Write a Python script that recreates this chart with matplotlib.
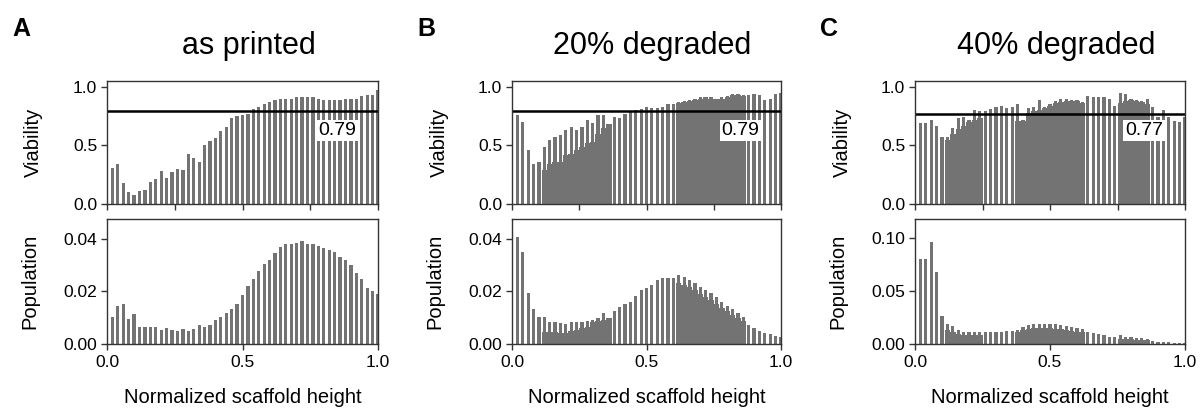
import numpy as np
import matplotlib
matplotlib.use("Agg")
import matplotlib.pyplot as plt

plt.rcParams['font.family'] = ['Liberation Sans', 'DejaVu Sans']

# bin centres (50 bins of width 0.02)
bins = np.arange(1, 51) * 0.02

panel_letters = ['A', 'B', 'C']
panel_titles = ['as printed', '20% degraded', '40% degraded']
thresholds = [0.79, 0.79, 0.77]

a_via = [0.31, 0.34, 0.18, 0.10, 0.08, 0.11, 0.12, 0.19, 0.21, 0.28,
         0.22, 0.27, 0.30, 0.29, 0.43, 0.39, 0.36, 0.50, 0.54, 0.56,
         0.62, 0.66, 0.73, 0.75, 0.76, 0.77, 0.81, 0.83, 0.85, 0.87,
         0.89, 0.90, 0.90, 0.90, 0.91, 0.91, 0.91, 0.91, 0.90, 0.89,
         0.89, 0.89, 0.89, 0.90, 0.90, 0.90, 0.92, 0.93, 0.93, 0.97]
a_via_fill = [0] * 50
a_pop = [0.0104, 0.0146, 0.0151, 0.0094, 0.0113, 0.0065, 0.0065, 0.0065, 0.0065, 0.0053,
         0.0062, 0.0055, 0.0050, 0.0058, 0.0050, 0.0058, 0.0072, 0.0065, 0.0072, 0.0091,
         0.0103, 0.0118, 0.0132, 0.0152, 0.0187, 0.0220, 0.0248, 0.0278, 0.0303, 0.0319,
         0.0345, 0.0371, 0.0382, 0.0382, 0.0385, 0.0391, 0.0382, 0.0382, 0.0375, 0.0364,
         0.0358, 0.0352, 0.0333, 0.0319, 0.0300, 0.0269, 0.0249, 0.0212, 0.0200, 0.0190]
a_pop_fill = [0] * 50

b_via = ([0.76, 0.70, 0.46, 0.34, 0.36]
         + [0.49, 0.55, 0.57, 0.59, 0.63, 0.66, 0.63, 0.66, 0.72, 0.69, 0.76, 0.76, 0.68]
         + [0.74, 0.73, 0.77, 0.79, 0.80, 0.81, 0.83, 0.82, 0.82, 0.83, 0.85, 0.85]
         + [0.87, 0.88, 0.89, 0.90, 0.91, 0.91, 0.91, 0.90, 0.91, 0.92, 0.94, 0.94, 0.93]
         + [0.93, 0.94, 0.93, 0.89, 0.90, 0.94, 0.95])
b_via_fill = ([0] * 5
              + [0.29, 0.34, 0.36, 0.36, 0.42, 0.43, 0.46, 0.49, 0.52, 0.53, 0.60, 0.65, 0.68]
              + [0] * 12
              + [0.86, 0.87, 0.88, 0.89, 0.90, 0.91, 0.90, 0.90, 0.90, 0.91, 0.93, 0.93, 0.92]
              + [0] * 7)
b_pop = ([0.0406, 0.0352, 0.0196, 0.0133, 0.0102]
         + [0.0102, 0.0085, 0.0085, 0.0079, 0.0076, 0.0085, 0.0085, 0.0085, 0.0089, 0.0091,
            0.0098, 0.0117, 0.0098]
         + [0.0126, 0.0140, 0.0152, 0.0161, 0.0184, 0.0206, 0.0212, 0.0225, 0.0244, 0.0251,
            0.0251, 0.0251]
         + [0.0263, 0.0254, 0.0244, 0.0231, 0.0218, 0.0206, 0.0193, 0.0178, 0.0161, 0.0145,
            0.0132, 0.0119, 0.0104]
         + [0.0072, 0.0060, 0.0051, 0.0043, 0.0037, 0.0030, 0.0025])
b_pop_fill = ([0] * 5
              + [0.0047, 0.0047, 0.0045, 0.0043, 0.0043, 0.0048, 0.0053, 0.0060, 0.0065, 0.0085,
                 0.0088, 0.0092, 0.0098]
              + [0] * 12
              + [0.0232, 0.0225, 0.0216, 0.0204, 0.0192, 0.0180, 0.0168, 0.0153, 0.0138, 0.0124,
                 0.0112, 0.0100, 0.0088]
              + [0] * 7)

c_via = ([0.69, 0.69, 0.72, 0.67, 0.57]
         + [0.57, 0.65, 0.73, 0.74, 0.72, 0.80, 0.79]
         + [0.79, 0.81, 0.83, 0.84, 0.82, 0.83]
         + [0.85, 0.72, 0.82, 0.83, 0.89, 0.83, 0.85, 0.88, 0.90, 0.90, 0.89, 0.89, 0.87]
         + [0.92, 0.91, 0.91, 0.91, 0.90, 0.84]
         + [0.95, 0.94, 0.90, 0.89, 0.88, 0.90]
         + [0.83, 0.74, 0.80, 0.74, 0.71, 0.70, 0.74])
c_via_fill = ([0] * 5
              + [0.55, 0.60, 0.64, 0.67, 0.70, 0.72, 0.73]
              + [0] * 6
              + [0.71, 0.71, 0.78, 0.79, 0.80, 0.82, 0.84, 0.86, 0.87, 0.88, 0.88, 0.88, 0.86]
              + [0] * 6
              + [0.86, 0.88, 0.89, 0.88, 0.87, 0.85]
              + [0] * 7)
c_pop = ([0.080, 0.080, 0.096, 0.068, 0.026]
         + [0.019, 0.017, 0.013, 0.011, 0.011, 0.011, 0.011]
         + [0.011, 0.011, 0.011, 0.011, 0.012, 0.012]
         + [0.013, 0.016, 0.018, 0.019, 0.019, 0.019, 0.019, 0.019, 0.018, 0.017, 0.016,
            0.015, 0.014]
         + [0.011, 0.010, 0.009, 0.008, 0.007, 0.007]
         + [0.008, 0.007, 0.007, 0.006, 0.006, 0.005]
         + [0.003, 0.002, 0.002, 0.0015, 0.0012, 0.001, 0.001])
c_pop_fill = ([0] * 5
              + [0.013, 0.011, 0.009, 0.008, 0.008, 0.008, 0.008]
              + [0] * 6
              + [0.011, 0.013, 0.014, 0.015, 0.015, 0.015, 0.015, 0.014, 0.014, 0.013, 0.012,
                 0.011, 0.011]
              + [0] * 6
              + [0.005, 0.005, 0.005, 0.004, 0.004, 0.004]
              + [0] * 7)

via_data = [(a_via, a_via_fill), (b_via, b_via_fill), (c_via, c_via_fill)]
pop_data = [(a_pop, a_pop_fill), (b_pop, b_pop_fill), (c_pop, c_pop_fill)]
pop_ylims = [0.0476, 0.0476, 0.1175]
pop_ticks = [[0, 0.02, 0.04], [0, 0.02, 0.04], [0, 0.05, 0.10]]
pop_ticklabels = [['0.00', '0.02', '0.04'], ['0.00', '0.02', '0.04'], ['0.00', '0.05', '0.10']]

BAR = '#737373'
SPINE = '#333333'


def style_axes(ax):
    for s in ax.spines.values():
        s.set_color(SPINE)
        s.set_linewidth(1.0)
    ax.tick_params(direction='out', length=4, width=1, color=SPINE, labelsize=12.5)
    ax.tick_params(axis='x', pad=4)
    ax.tick_params(axis='y', pad=3)


def draw_bars(ax, vals, fill):
    # dense parts: full-width bars underneath
    ax.bar(bins, fill, width=0.02, color=BAR, linewidth=0)
    ax.bar(bins, vals, width=0.012, color=BAR, linewidth=0)
    ax.set_xlim(0, 1)


fig = plt.figure(figsize=(12, 4.08), dpi=100)

lefts = [107, 512, 915]
widths = [271, 269, 270]

for i in range(3):
    x0 = lefts[i] / 1200
    w = widths[i] / 1200
    ax_v = fig.add_axes([x0, 1 - 204 / 408, w, 123 / 408])
    ax_p = fig.add_axes([x0, 1 - 344 / 408, w, 125 / 408])

    # viability
    vals, fill = via_data[i]
    draw_bars(ax_v, vals, fill)
    ax_v.set_ylim(0, 1.05)
    ax_v.set_yticks([0, 0.5, 1.0])
    ax_v.set_yticklabels(['0.0', '0.5', '1.0'])
    ax_v.set_xticks([0, 0.25, 0.5, 0.75, 1.0])
    ax_v.set_xticklabels([])
    ax_v.axhline(thresholds[i], color='black', lw=1.8)
    ax_v.text(0.85, 0.63, '%.2f' % thresholds[i], ha='center', va='center', fontsize=14,
              bbox=dict(facecolor='white', edgecolor='none', pad=1.5))
    ax_v.set_ylabel('Viability', fontsize=14.5)
    ax_v.yaxis.set_label_coords(-0.235, 0.5)
    style_axes(ax_v)

    # population
    vals, fill = pop_data[i]
    draw_bars(ax_p, vals, fill)
    ax_p.set_ylim(0, pop_ylims[i])
    ax_p.set_yticks(pop_ticks[i])
    ax_p.set_yticklabels(pop_ticklabels[i])
    ax_p.set_xticks([0, 0.5, 1.0])
    ax_p.set_xticklabels(['0.0', '0.5', '1.0'])
    ax_p.set_ylabel('Population', fontsize=14.5)
    ax_p.yaxis.set_label_coords(-0.25, 0.5)
    ax_p.set_xlabel('Normalized scaffold height', fontsize=14.5, labelpad=13)
    style_axes(ax_p)

    # title and panel letter
    cx = (lefts[i] + widths[i] / 2 + 6) / 1200
    fig.text(cx, 1 - 54 / 408, panel_titles[i], ha='center', va='baseline', fontsize=22)
    fig.text((lefts[i] - 95) / 1200, 1 - 36 / 408, panel_letters[i], ha='left',
             va='baseline', fontsize=18, fontweight='bold')

fig.savefig('out.png', dpi=100)
